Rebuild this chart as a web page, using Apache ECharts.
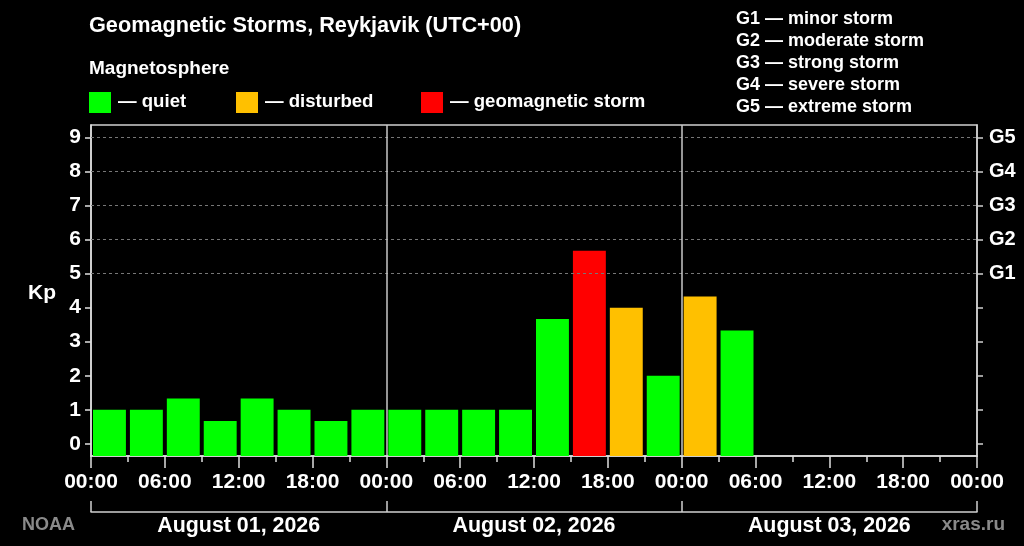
<!DOCTYPE html>
<html>
<head>
<meta charset="utf-8">
<script src="https://cdn.jsdelivr.net/npm/echarts@6/dist/echarts.min.js"></script>
<style>
html,body{margin:0;padding:0;background:#000;}
#chart{width:1024px;height:546px;}
</style>
</head>
<body>
<div id="chart"></div>
<script>
// ---- data ----
const slotStartHours = [0,3,6,9,12,15,18,21, 24,27,30,33,36,39,42,45, 48,51];
const kpValues = [1,1,1.33,0.67,1.33,1,0.67,1, 1,1,1,1,3.67,5.67,4,2, 4.33,3.33];
const kpStatus = ['quiet','quiet','quiet','quiet','quiet','quiet','quiet','quiet',
                  'quiet','quiet','quiet','quiet','quiet','storm','disturbed','quiet',
                  'disturbed','quiet'];
const dayLabels = ['August 01, 2026','August 02, 2026','August 03, 2026'];
const kpTicks = [0,1,2,3,4,5,6,7,8,9];
const gLevelKp = [5,6,7,8,9];
const gLevelNames = ['G1','G2','G3','G4','G5'];
const gScaleText = ['G1 — minor storm','G2 — moderate storm','G3 — strong storm','G4 — severe storm','G5 — extreme storm'];
const statusNames = ['quiet','disturbed','storm'];
const statusText = ['— quiet','— disturbed','— geomagnetic storm'];
const dayBoundaries = [24,48];

// ---- styles ----
const statusColors = {quiet:'#00ff00', disturbed:'#ffc000', storm:'#ff0000'};
const FONT = '"Liberation Sans", Arial, sans-serif';
const SLOT_HOURS = 3;
const Y_MIN = -0.36, Y_MAX = 9.37;

const chart = echarts.init(document.getElementById('chart'), null, {renderer:'canvas'});

function txt(x, y, text, size, color, align) {
  return {type:'text', x:x, y:y, silent:true,
    style:{text:text, fill:color||'#fff', font:'bold '+size+'px '+FONT,
      align:align||'left', verticalAlign:'middle'}};
}

const graphics = [];
graphics.push(txt(89, 26, 'Geomagnetic Storms, Reykjavik (UTC+00)', 21.7));
graphics.push(txt(89, 69, 'Magnetosphere', 19));
const legendX = [89, 236, 421];
statusNames.forEach((s, i) => {
  graphics.push({type:'rect', silent:true, shape:{x:legendX[i], y:92, width:22, height:21},
    style:{fill:statusColors[s]}});
  graphics.push(txt(legendX[i]+29, 102, statusText[i], 18.6));
});
gScaleText.forEach((t, i) => graphics.push(txt(736, 19 + i*22, t, 18)));
graphics.push(txt(42, 293, 'Kp', 21, '#fff', 'center'));
graphics.push(txt(22, 525, 'NOAA', 18, '#8a8a8a'));
graphics.push(txt(1005, 525, 'xras.ru', 19, '#8a8a8a', 'right'));

const option = {
  backgroundColor:'#000',
  animation:false,
  textStyle:{fontFamily:FONT},
  grid:{left:91, right:47, top:125, bottom:90, show:true, borderColor:'#d0d0d0', borderWidth:1.5},
  graphic:graphics,
  xAxis:[
    {type:'value', min:0, max:72, interval:6,
     axisLine:{show:true, onZero:false, lineStyle:{color:'#e0e0e0', width:1.5}},
     axisTick:{show:true, length:12, lineStyle:{color:'#e0e0e0', width:1.5}},
     minorTick:{show:true, splitNumber:2, length:6, lineStyle:{color:'#e0e0e0', width:1.5}},
     splitLine:{show:false},
     axisLabel:{color:'#fff', fontWeight:'bold', fontSize:21, margin:16,
       formatter:v => String(v % 24).padStart(2,'0') + ':00'}},
    {type:'category', data:dayLabels, position:'bottom', offset:56, boundaryGap:true,
     axisLine:{show:true, onZero:false, lineStyle:{color:'#d0d0d0', width:1.5}},
     axisTick:{show:true, inside:true, length:11, alignWithLabel:false, lineStyle:{color:'#d0d0d0', width:1.5}},
     splitLine:{show:false},
     axisLabel:{color:'#fff', fontWeight:'bold', fontSize:21.4, margin:4}}
  ],
  yAxis:[
    {type:'value', min:Y_MIN, max:Y_MAX, position:'left',
     axisLine:{show:true, onZero:false, lineStyle:{color:'#e0e0e0', width:1.5}},
     axisTick:{show:true, length:6, customValues:kpTicks, lineStyle:{color:'#e0e0e0', width:1.5}},
     axisLabel:{color:'#fff', fontWeight:'bold', fontSize:21, margin:10, customValues:kpTicks},
     splitLine:{show:false}},
    {type:'value', min:Y_MIN, max:Y_MAX, position:'right',
     axisLine:{show:true, onZero:false, lineStyle:{color:'#d0d0d0', width:1.5}},
     axisTick:{show:true, length:6, customValues:kpTicks, lineStyle:{color:'#d0d0d0', width:1.5}},
     axisLabel:{color:'#fff', fontWeight:'bold', fontSize:20, margin:12, customValues:gLevelKp,
       formatter:v => gLevelNames[gLevelKp.indexOf(Math.round(v))] || ''},
     splitLine:{show:false}}
  ],
  series:[
    {type:'line', xAxisIndex:0, yAxisIndex:0, data:[], silent:true,
     markLine:{silent:true, symbol:['none','none'], label:{show:false},
       lineStyle:{color:'#777', type:[3,3], width:1},
       data:gLevelKp.map(k => ({yAxis:k}))}},
    {type:'line', xAxisIndex:0, yAxisIndex:0, data:[], silent:true,
     markLine:{silent:true, symbol:['none','none'], label:{show:false},
       lineStyle:{color:'#c8c8c8', type:'solid', width:1.5},
       data:dayBoundaries.map(h => ({xAxis:h}))}},
    {type:'custom', xAxisIndex:0, yAxisIndex:0,
     data:slotStartHours.map((h, i) => [h, kpValues[i], i]),
     encode:{x:0, y:1},
     renderItem:function(params, api){
       const x0 = api.value(0), v = api.value(1), idx = api.value(2);
       const p0 = api.coord([x0, Y_MIN]);
       const p1 = api.coord([x0 + SLOT_HOURS, v]);
       return {type:'rect',
         shape:{x:p0[0]+2, y:p1[1], width:p1[0]-p0[0]-4, height:p0[1]-p1[1]},
         style:{fill:statusColors[kpStatus[idx]]}};
     }}
  ]
};
chart.setOption(option);
</script>
</body>
</html>
